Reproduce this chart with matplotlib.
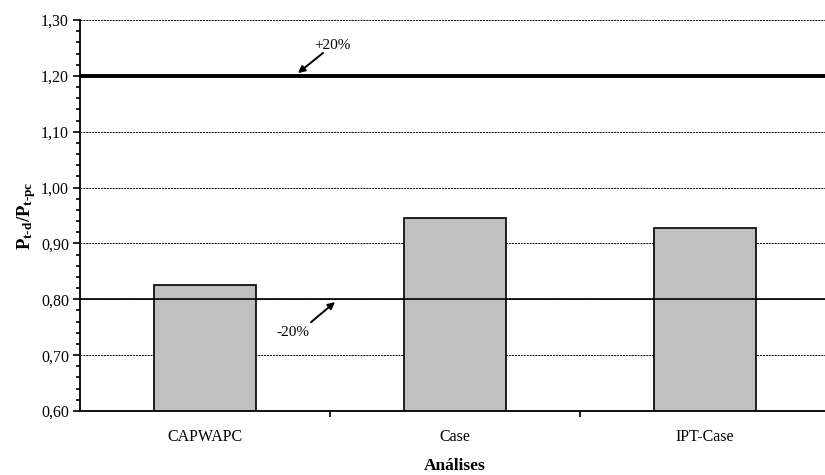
import numpy as np
import matplotlib.pyplot as plt
from matplotlib.ticker import MultipleLocator, FixedLocator

plt.rcParams['font.family'] = ['Liberation Serif', 'DejaVu Serif']
plt.rcParams['mathtext.fontset'] = 'custom'
plt.rcParams['mathtext.rm'] = 'Liberation Serif'
plt.rcParams['mathtext.bf'] = 'Liberation Serif:bold'

categories = ['CAPWAPC', 'Case', 'IPT-Case']
ratios = [0.825, 0.946, 0.928]
upper_limit = 1.20
lower_limit = 0.80

fig = plt.figure(figsize=(8.25, 4.75), dpi=100)
ax = fig.add_axes([80 / 825, 64 / 475, 745 / 825, 391 / 475])

x = np.arange(len(categories))
ax.set_axisbelow(True)
ax.yaxis.grid(True, which='major', color='black', linestyle=(0, (2, 1)), linewidth=0.7)
ax.bar(x, ratios, width=0.41, color='#c0c0c0', edgecolor='black', linewidth=1.2, zorder=2)

ax.axhline(upper_limit, color='black', linewidth=2.8, zorder=3)
ax.axhline(lower_limit, color='black', linewidth=1.2, zorder=3)

# labels for the +/-20% limits, with their arrows
arrow = dict(arrowstyle='-|>', color='black', lw=1.4, mutation_scale=10, shrinkA=0, shrinkB=0)
ax.text(0.508, 1.255, '+20%', ha='center', va='center', fontsize=11)
ax.annotate('', xy=(0.372, 1.205), xytext=(0.472, 1.241), arrowprops=arrow)
ax.text(0.352, 0.741, '-20%', ha='center', va='center', fontsize=11)
ax.annotate('', xy=(0.52, 0.795), xytext=(0.424, 0.759), arrowprops=arrow)

ax.set_ylim(0.60, 1.30)
ax.set_xlim(-0.5, 2.48)
ax.yaxis.set_major_locator(MultipleLocator(0.1))
ax.yaxis.set_minor_locator(MultipleLocator(0.02))
ax.set_yticklabels([f'{v:.2f}'.replace('.', ',') for v in ax.get_yticks()])
ax.tick_params(axis='y', which='major', length=5, width=1.2, labelsize=11.5, pad=3)
ax.tick_params(axis='y', which='minor', length=3, width=1.2)

ax.xaxis.set_major_locator(FixedLocator([0.5, 1.5]))
ax.xaxis.set_minor_locator(FixedLocator(x))
ax.set_xticklabels(['', ''])
ax.set_xticklabels(categories, minor=True)
ax.tick_params(axis='x', which='major', length=4, width=1.2)
ax.tick_params(axis='x', which='minor', length=0, labelsize=11.5, pad=13)

for s in ['top', 'right']:
    ax.spines[s].set_visible(False)
for s in ['left', 'bottom']:
    ax.spines[s].set_linewidth(1.3)

fig.text(455 / 825, 1 - 466 / 475, 'Análises', ha='center', va='center',
         fontsize=12.5, fontweight='bold')
ax.set_ylabel(r'$\mathbf{P_{t\text{-}d}/P_{t\text{-}pc}}$', fontsize=13.5, labelpad=2)

fig.savefig('out.png', dpi=100)
